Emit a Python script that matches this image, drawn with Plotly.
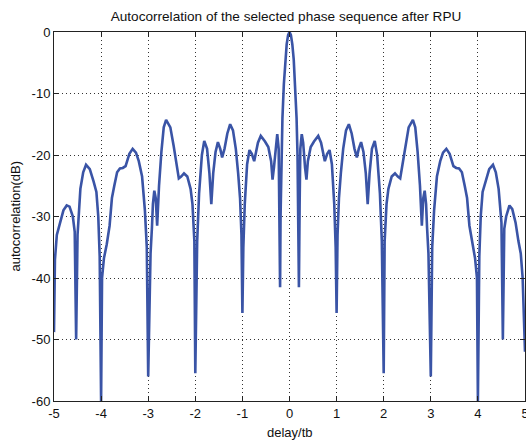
import plotly.graph_objects as go

# delay / tb (x) and autocorrelation in dB (y)
delay = [
    -5.0, -4.98, -4.94, -4.86, -4.8, -4.73, -4.67, -4.6, -4.56, -4.53, -4.5, -4.44, -4.38, -4.32,
    -4.24, -4.16, -4.1, -4.06, -4.03, -4.0,
    -3.98, -3.94, -3.88, -3.82, -3.77, -3.72, -3.66, -3.6, -3.54, -3.48, -3.4, -3.33, -3.26,
    -3.2, -3.13, -3.07, -3.03, -3.0,
    -2.95, -2.92, -2.9, -2.87, -2.84, -2.81, -2.77, -2.72, -2.67, -2.62, -2.53, -2.46, -2.4,
    -2.35, -2.3, -2.24, -2.17, -2.1, -2.06, -2.02, -2.0,
    -1.96, -1.92, -1.86, -1.81, -1.75, -1.7, -1.66, -1.62, -1.57, -1.52, -1.47, -1.43, -1.38,
    -1.32, -1.26, -1.2, -1.14, -1.09, -1.05, -1.02, -1.0,
    -0.98, -0.95, -0.9, -0.85, -0.8, -0.75, -0.67, -0.61, -0.52, -0.45, -0.39, -0.36, -0.33,
    -0.29, -0.26, -0.23, -0.215, -0.2, -0.19, -0.17, -0.15, -0.12, -0.09, -0.06, -0.03,
    0.0,
    0.03, 0.06, 0.09, 0.12, 0.15, 0.17, 0.19, 0.2, 0.215, 0.23, 0.26, 0.29, 0.33, 0.36, 0.39,
    0.45, 0.52, 0.61, 0.67, 0.75, 0.8, 0.85, 0.9, 0.95, 0.98, 1.0,
    1.02, 1.05, 1.09, 1.14, 1.2, 1.26, 1.32, 1.38, 1.43, 1.47, 1.52, 1.57, 1.62, 1.66, 1.7,
    1.75, 1.81, 1.86, 1.92, 1.96, 2.0,
    2.02, 2.06, 2.1, 2.17, 2.24, 2.3, 2.35, 2.4, 2.46, 2.53, 2.62, 2.67, 2.72, 2.77, 2.81,
    2.84, 2.87, 2.9, 2.92, 2.95, 3.0,
    3.03, 3.07, 3.13, 3.2, 3.26, 3.33, 3.4, 3.48, 3.54, 3.6, 3.66, 3.72, 3.77, 3.82, 3.88,
    3.94, 3.98, 4.0,
    4.03, 4.06, 4.1, 4.16, 4.24, 4.32, 4.38, 4.44, 4.5, 4.53, 4.56, 4.6, 4.67, 4.73, 4.8,
    4.86, 4.91, 4.95, 5.0,
]

autocorr_db = [
    -48.8, -37.0, -33.0, -30.5, -29.0, -28.2, -28.4, -30.0, -32.5, -50.0, -33.0, -25.5, -22.8, -21.6,
    -22.3, -24.3, -26.0, -30.0, -36.5, -60.0,
    -40.0, -36.8, -34.5, -31.5, -27.0, -25.0, -22.8, -22.2, -22.1, -21.8, -19.8, -19.0, -19.6,
    -21.0, -23.5, -29.0, -35.0, -56.0,
    -36.0, -31.7, -28.0, -25.8, -27.0, -31.5, -25.0, -19.5, -15.5, -14.3, -15.5, -18.5, -21.5,
    -23.8, -23.5, -23.0, -23.5, -25.5, -28.0, -34.0, -55.5,
    -34.0, -26.3, -20.0, -17.7, -19.0, -23.0, -28.0, -23.0, -19.5, -17.9, -19.0, -20.4, -19.0,
    -16.5, -15.0, -16.0, -19.0, -23.0, -27.0, -33.0, -45.7,
    -35.0, -28.0, -21.5, -19.2, -19.8, -21.0, -18.0, -16.9, -17.8, -18.7, -21.0, -24.0, -22.0,
    -18.0, -16.6, -19.0, -28.0, -41.5, -30.0, -20.0, -14.0, -8.5, -4.5, -2.0, -0.5,
    0.0,
    -0.5, -2.0, -4.5, -8.5, -14.0, -20.0, -30.0, -41.5, -28.0, -19.0, -16.6, -18.0, -22.0, -24.0, -21.0,
    -18.7, -17.8, -16.9, -18.0, -21.0, -19.8, -19.2, -21.5, -28.0, -35.0, -45.7,
    -33.0, -27.0, -23.0, -19.0, -16.0, -15.0, -16.5, -19.0, -20.4, -19.0, -17.9, -19.5, -23.0, -28.0, -23.0,
    -19.0, -17.7, -20.0, -26.3, -34.0, -55.5,
    -34.0, -28.0, -25.5, -23.5, -23.0, -23.5, -23.8, -21.5, -18.5, -15.5, -14.3, -15.5, -19.5, -25.0, -31.5,
    -27.0, -25.8, -28.0, -31.7, -36.0, -56.0,
    -35.0, -29.0, -23.5, -21.0, -19.6, -19.0, -19.8, -21.8, -22.1, -22.2, -22.8, -25.0, -27.0, -31.5, -34.5,
    -36.8, -40.0, -60.0,
    -36.5, -30.0, -26.0, -24.3, -22.3, -21.6, -22.8, -25.5, -31.0, -50.0, -32.0, -30.0, -28.2, -28.8, -31.0,
    -34.0, -36.0, -40.0, -52.0,
]

x_ticks = [-5, -4, -3, -2, -1, 0, 1, 2, 3, 4, 5]
y_ticks = [-60, -50, -40, -30, -20, -10, 0]

title_text = "Autocorrelation of the selected phase sequence after RPU"
x_label = "delay/tb"
y_label = "autocorrelation(dB)"

FONT = "Liberation Sans, Arial, Helvetica, sans-serif"
TXT = "#111111"

W, H = 526, 441
ML, MR, MT, MB = 54, 1, 32, 40

fig = go.Figure()
fig.add_trace(go.Scatter(
    x=delay, y=autocorr_db, mode="lines",
    line=dict(color="#3a54a6", width=2.6),
    showlegend=False,
))

axis_common = dict(
    showline=True, linecolor="#222222", linewidth=1, mirror="ticks",
    ticks="inside", ticklen=5, tickwidth=1, tickcolor="#222222",
    showgrid=True, gridcolor="#333333", gridwidth=1, griddash="1px,3px",
    zeroline=False, ticklabeloverflow="allow",
    tickfont=dict(family=FONT, size=13, color=TXT),
)

fig.update_xaxes(range=[-5, 5], tickvals=x_ticks, ticktext=[str(v) for v in x_ticks], **axis_common)
fig.update_yaxes(range=[-60, 0], tickvals=y_ticks, ticktext=[str(v) for v in y_ticks], **axis_common)

fig.add_annotation(
    text=x_label, xref="paper", yref="paper", x=0.5, y=0,
    xanchor="center", yanchor="middle", yshift=-31, showarrow=False,
    font=dict(family=FONT, size=13, color=TXT),
)
fig.add_annotation(
    text=y_label, xref="paper", yref="paper", x=0, y=0.5, textangle=-90,
    xanchor="center", yanchor="middle", xshift=-39, showarrow=False,
    font=dict(family=FONT, size=13, color=TXT),
)

fig.update_layout(
    width=W, height=H,
    margin=dict(l=ML, r=MR, t=MT, b=MB, autoexpand=False),
    paper_bgcolor="white", plot_bgcolor="white",
    title=dict(text=title_text, x=286 / W, xanchor="center", y=1 - 16 / H, yanchor="middle",
               font=dict(family=FONT, size=13.6, color=TXT)),
)

# remove the browser's default 8px body margin so the 526x441 figure fills the window
fig.write_html(
    "out.html",
    config={"displayModeBar": False},
    post_script="document.body.style.margin='0';document.body.style.overflow='hidden';",
)
